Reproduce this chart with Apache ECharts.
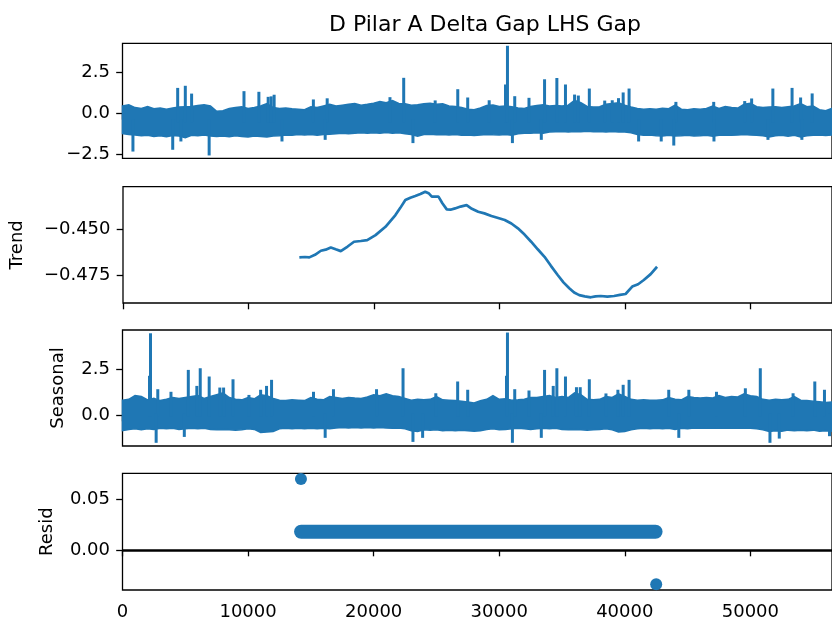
<!DOCTYPE html>
<html>
<head>
<meta charset="utf-8">
<script src="https://cdn.jsdelivr.net/npm/echarts@6/dist/echarts.min.js"></script>
<style>html,body{margin:0;padding:0;background:#fff}#chart{width:832px;height:623px}</style>
</head>
<body>
<div id="chart"></div>
<script>
// ---------------- data ----------------
const titleText = 'D Pilar A Delta Gap LHS Gap';
const panelNames = ['', 'Trend', 'Seasonal', 'Resid'];

const xTicks = [0, 10000, 20000, 30000, 40000, 50000];
const obsTicks = [-2.5, 0, 2.5];
const trendTicks = [-0.475, -0.450];
const seasTicks = [0, 2.5];
const residTicks = [0, 0.05];

// Observed: dense band envelope [x, low, high]
const obsBand = [
 [0,-1.25,0.45],[500,-1.30,0.52],[1000,-1.33,0.35],[1500,-1.38,0.30],[2000,-1.35,0.42],[2500,-1.42,0.28],
 [3000,-1.38,0.33],[3500,-1.44,0.25],[4000,-1.36,0.32],[4500,-1.40,0.38],[5000,-1.50,0.40],[5500,-1.35,0.42],
 [6000,-1.38,0.48],[6500,-1.33,0.52],[7000,-1.40,0.45],[7500,-1.42,0.12],[8000,-1.40,0.15],[8500,-1.44,0.30],
 [9000,-1.38,0.35],[9500,-1.42,0.40],[10000,-1.45,0.30],[10500,-1.40,0.35],[11000,-1.43,0.45],[11500,-1.45,0.60],
 [12000,-1.40,0.35],[12500,-1.38,0.30],[13000,-1.33,0.32],[13500,-1.35,0.28],[14000,-1.30,0.25],[14500,-1.33,0.22],
 [15000,-1.30,0.40],[15500,-1.35,0.35],[16000,-1.30,0.45],[16500,-1.28,0.55],[17000,-1.25,0.45],[17500,-1.22,0.50],
 [18000,-1.25,0.55],[18500,-1.22,0.60],[19000,-1.20,0.50],[19500,-1.23,0.55],[20000,-1.20,0.62],[20500,-1.22,0.72],
 [21000,-1.18,0.65],[21500,-1.22,0.78],[22000,-1.20,0.60],[22500,-1.25,0.58],[23000,-1.30,0.50],[23500,-1.40,0.52],
 [24000,-1.30,0.58],[24500,-1.28,0.62],[25000,-1.32,0.55],[25500,-1.30,0.58],[26000,-1.33,0.45],[26500,-1.30,0.42],
 [27000,-1.35,0.35],[27500,-1.33,0.25],[28000,-1.36,0.22],[28500,-1.33,0.32],[29000,-1.30,0.48],[29500,-1.32,0.50],
 [30000,-1.33,0.42],[30500,-1.30,0.45],[31000,-1.35,0.40],[31500,-1.25,0.32],[32000,-1.22,0.30],[32500,-1.22,0.42],
 [33000,-1.20,0.48],[33500,-1.22,0.52],[34000,-1.15,0.45],[34500,-1.13,0.48],[35000,-1.12,0.45],[35500,-1.15,0.50],
 [36000,-1.12,0.80],[36500,-1.13,0.65],[37000,-1.10,0.42],[37500,-1.13,0.38],[38000,-1.12,0.40],[38500,-1.15,0.55],
 [39000,-1.12,0.60],[39500,-1.15,0.65],[40000,-1.15,0.50],[40500,-1.20,0.38],[41000,-1.30,0.30],[41500,-1.35,0.25],
 [42000,-1.33,0.28],[42500,-1.38,0.25],[43000,-1.40,0.30],[43500,-1.35,0.28],[44000,-1.40,0.50],[44500,-1.38,0.25],
 [45000,-1.35,0.22],[45500,-1.40,0.28],[46000,-1.38,0.25],[46500,-1.35,0.30],[47000,-1.40,0.45],[47500,-1.35,0.30],
 [48000,-1.33,0.42],[48500,-1.35,0.35],[49000,-1.33,0.32],[49500,-1.30,0.55],[50000,-1.33,0.62],[50500,-1.35,0.40],
 [51000,-1.38,0.35],[51500,-1.45,0.38],[52000,-1.38,0.40],[52500,-1.35,0.35],[53000,-1.40,0.40],[53500,-1.35,0.45],
 [54000,-1.45,0.60],[54500,-1.38,0.40],[55000,-1.35,0.45],[55500,-1.33,0.22],[56000,-1.36,0.15],[56500,-1.33,0.30]
];
const obsLevel = -0.45;
// Observed isolated spikes [x, tip]
const obsSpikes = [
 [4394,1.47],[5002,1.60],[5503,1.12],[9674,1.27],[10860,1.23],[11600,0.92],[11840,0.95],[12075,1.05],
 [15200,0.76],[16300,0.83],[21300,0.90],[22393,2.09],[24900,0.70],[26698,1.39],[27490,0.88],[29200,0.71],
 [30500,1.68],[30656,4.06],[31235,0.96],[32370,0.86],[33610,2.00],[34590,2.08],[35275,1.68],[36000,1.06],
 [36300,1.00],[37175,1.43],[38400,0.69],[39000,0.71],[39500,0.84],[39870,1.19],[40340,1.43],[44070,0.61],
 [47080,0.61],[49550,0.66],[50100,0.82],[51790,1.43],[53320,1.47],[54000,0.88],[54920,1.13],
 [831,-2.26],[3999,-2.15],[4650,-1.64],[6900,-2.50],[12700,-1.64],[16140,-1.54],[23130,-1.74],[31050,-1.74],
 [33350,-1.54],[41100,-1.64],[42900,-1.64],[43900,-1.89],[47100,-1.64],[51400,-1.54],[54100,-1.54]
];

// Trend [x, value]
const trendData = [
 [14054,-0.4654],[14500,-0.4652],[14846,-0.4654],[15300,-0.4640],[15770,-0.4618],[16150,-0.4612],[16560,-0.4600],
 [16950,-0.4610],[17355,-0.4620],[17900,-0.4595],[18410,-0.4569],[18950,-0.4565],[19460,-0.4560],[20125,-0.4533],
 [20917,-0.4488],[21710,-0.4424],[22100,-0.4385],[22500,-0.4342],[22900,-0.4330],[23290,-0.4321],[23700,-0.4310],
 [24085,-0.4297],[24350,-0.4305],[24610,-0.4324],[25140,-0.4324],[25450,-0.4360],[25800,-0.4393],[26100,-0.4395],
 [26460,-0.4388],[26900,-0.4378],[27380,-0.4370],[27800,-0.4390],[28305,-0.4406],[28800,-0.4415],[29360,-0.4429],
 [29900,-0.4440],[30420,-0.4451],[30950,-0.4470],[31470,-0.4496],[32000,-0.4530],[32525,-0.4569],[33050,-0.4610],
 [33590,-0.4651],[34100,-0.4700],[34640,-0.4750],[35100,-0.4790],[35565,-0.4822],[35950,-0.4845],[36360,-0.4859],
 [36800,-0.4866],[37280,-0.4871],[37650,-0.4866],[38070,-0.4864],[38600,-0.4867],[39130,-0.4864],[39600,-0.4858],
 [40050,-0.4853],[40580,-0.4813],[41050,-0.4800],[41505,-0.4777],[42050,-0.4745],[42560,-0.4705]
];

// Seasonal: dense band envelope [x, low, high]
const seasBand = [
 [0,-0.85,0.80],[500,-0.78,0.85],[1000,-0.75,1.05],[1500,-0.80,1.00],[2000,-0.75,0.82],[2500,-0.78,0.90],
 [3000,-0.72,0.78],[3500,-0.75,0.85],[4000,-0.72,0.95],[4500,-0.78,0.90],[5000,-0.75,0.95],[5500,-0.72,1.00],
 [6000,-0.75,1.05],[6500,-0.72,0.90],[7000,-0.78,1.00],[7500,-0.80,1.10],[8000,-0.78,1.20],[8500,-0.80,0.95],
 [9000,-0.82,0.85],[9500,-0.80,0.82],[10000,-0.75,0.95],[10500,-0.78,0.88],[11000,-0.95,1.10],[11500,-0.92,1.05],
 [12000,-0.90,0.90],[12500,-0.75,0.80],[13000,-0.72,0.78],[13500,-0.75,0.82],[14000,-0.72,0.80],[14500,-0.75,0.78],
 [15000,-0.72,0.95],[15500,-0.75,0.85],[16000,-0.72,0.82],[16500,-0.75,1.00],[17000,-0.70,0.95],[17500,-0.68,0.90],
 [18000,-0.70,0.95],[18500,-0.68,0.92],[19000,-0.70,0.90],[19500,-0.68,0.98],[20000,-0.70,1.10],[20500,-0.68,1.05],
 [21000,-0.70,1.15],[21500,-0.72,1.05],[22000,-0.70,1.00],[22500,-0.75,0.90],[23000,-0.85,0.80],[23500,-0.90,0.85],
 [24000,-0.80,0.82],[24500,-0.82,0.85],[25000,-0.80,1.00],[25500,-0.85,0.82],[26000,-0.82,0.80],[26500,-0.85,0.78],
 [27000,-0.82,0.75],[27500,-0.85,0.70],[28000,-0.88,0.65],[28500,-0.85,0.78],[29000,-0.78,0.85],[29500,-0.75,1.05],
 [30000,-0.80,0.85],[30500,-0.78,0.88],[31000,-0.75,0.80],[31500,-0.72,0.82],[32000,-0.75,0.85],[32500,-0.78,0.95],
 [33000,-0.75,0.95],[33500,-0.72,1.00],[34000,-0.75,1.05],[34500,-0.72,0.95],[35000,-0.78,1.00],[35500,-0.80,0.95],
 [36000,-0.78,1.20],[36500,-0.80,1.10],[37000,-0.82,0.85],[37500,-0.80,0.82],[38000,-0.78,0.85],[38500,-0.75,1.00],
 [39000,-0.80,0.95],[39500,-0.92,1.15],[40000,-0.90,1.00],[40500,-0.80,0.85],[41000,-0.75,0.80],[41500,-0.72,0.82],
 [42000,-0.75,0.80],[42500,-0.72,0.80],[43000,-0.75,0.82],[43500,-0.72,0.95],[44000,-0.78,0.85],[44500,-0.72,0.82],
 [45000,-0.75,1.00],[45500,-0.70,0.95],[46000,-0.72,0.92],[46500,-0.70,0.95],[47000,-0.72,0.92],[47500,-0.70,1.05],
 [48000,-0.72,0.95],[48500,-0.70,1.00],[49000,-0.72,0.98],[49500,-0.70,1.15],[50000,-0.72,1.05],[50500,-0.75,1.00],
 [51000,-0.80,0.85],[51500,-0.90,0.80],[52000,-0.85,0.85],[52500,-0.88,0.82],[53000,-0.82,0.85],[53500,-0.85,1.00],
 [54000,-0.82,0.80],[54500,-0.85,0.78],[55000,-0.82,0.75],[55500,-0.88,0.72],[56000,-0.85,0.68],[56500,-0.88,0.70]
];
const seasLevel = 0.0;
const seasSpikes = [
 [2150,2.05],[2230,4.36],[2810,1.32],[3860,1.18],[5240,2.37],[5920,1.50],[6190,2.46],[6903,2.01],[7750,1.41],
 [8050,1.41],[8800,1.86],[10070,1.01],[11000,1.29],[11470,1.50],[11870,1.83],[15210,1.18],[16800,1.32],
 [20230,1.32],[22340,2.46],[24950,1.10],[26690,1.74],[27490,1.29],
 [30580,2.05],[30656,4.40],[31235,1.32],[32370,1.25],[33610,2.37],[34300,1.50],[34590,2.46],[35275,2.01],
 [36150,1.43],[36450,1.43],[37175,1.86],[38500,1.09],[39450,1.29],[39870,1.56],[40340,1.83],[43500,1.29],
 [45100,1.29],[47300,1.18],[49600,1.37],[50790,2.46],[53400,1.10],[55130,1.74],[55900,1.29],
 [2680,-1.43],[4922,-1.11],[16140,-1.16],[23130,-1.38],[23900,-1.16],[31050,-1.43],[33350,-1.16],
 [44300,-1.16],[51560,-1.43],[52300,-1.20],[56300,-1.07]
];

// Resid
const residRun = [[14220,0.0180],[42450,0.0180]];     // dense run of markers at ~0.018
const residOutliers = [[14210,0.0700],[42500,-0.0338]];

// ---------------- chart ----------------
const C0 = '#1f77b4';
const FONT = 'DejaVu Sans';
const chart = echarts.init(document.getElementById('chart'), null, {renderer:'canvas'});

const grids = [
  {top:43.3, height:115},
  {top:186.7, height:116.3},
  {top:330, height:116},
  {top:473.3, height:116.7}
];
const yRanges = [[-2.767,4.305],[-0.4902,-0.4270],[-1.685,4.62],[-0.0394,0.0756]];
const yTicks = [obsTicks, trendTicks, seasTicks, residTicks];
const yDec = [1,3,1,2];
const nameGaps = [0, 97, 55, 66];

const minus = s => s.replace('-', '\u2212');

function bandItem(band) {
  return (params, api) => {
    const pts = [];
    band.forEach(b => pts.push(api.coord([b[0], b[2]])));
    for (let k = band.length - 1; k >= 0; k--) pts.push(api.coord([band[k][0], band[k][1]]));
    return {type:'polygon', shape:{points:pts}, style:{fill:C0, stroke:C0, lineWidth:1.6, lineJoin:'miter'}};
  };
}
function spikeItem(level) {
  return (params, api) => {
    const a = api.coord([api.value(0), level]);
    const b = api.coord([api.value(0), api.value(1)]);
    return {type:'line', shape:{x1:a[0], y1:a[1], x2:b[0], y2:b[1]},
      style:{stroke:C0, lineWidth:3, lineCap:'square'}};
  };
}

const option = {
  animation:false,
  backgroundColor:'#fff',
  title:{text:titleText, left:480, top:9, textAlign:'center',
    textStyle:{fontFamily:FONT, fontSize:22, fontWeight:'normal', color:'#000'}},
  grid: grids.map(g => ({left:122.5, width:714.7, top:g.top, height:g.height,
    show:true, borderColor:'#000', borderWidth:1.3, backgroundColor:'transparent'})),
  xAxis: grids.map((g,i) => ({
    type:'value', gridIndex:i, min:0, max:56500,
    axisLine:{show:false},
    splitLine:{show:false},
    axisTick:{show:true, customValues:xTicks, length:6.3, lineStyle:{color:'#000', width:1.3}},
    axisLabel:{show:i===3, customValues:xTicks, margin:13, fontFamily:FONT, fontSize:18, color:'#000',
      formatter: v => String(v)}
  })),
  yAxis: grids.map((g,i) => ({
    type:'value', gridIndex:i, min:yRanges[i][0], max:yRanges[i][1],
    name:panelNames[i], nameLocation:'middle', nameGap:nameGaps[i], nameRotate:90,
    nameTextStyle:{fontFamily:FONT, fontSize:18, color:'#000'},
    axisLine:{show:false},
    splitLine:{show:false},
    axisTick:{show:true, customValues:yTicks[i], length:6.3, lineStyle:{color:'#000', width:1.3}},
    axisLabel:{show:true, customValues:yTicks[i], margin:12.5, fontFamily:FONT, fontSize:18, color:'#000',
      formatter: v => minus(Number(v).toFixed(yDec[i]))}
  })),
  series:[
    {type:'custom', xAxisIndex:0, yAxisIndex:0, data:[[0,0]], silent:true, renderItem:bandItem(obsBand)},
    {type:'custom', xAxisIndex:0, yAxisIndex:0, data:obsSpikes, silent:true, renderItem:spikeItem(obsLevel)},
    {type:'line', xAxisIndex:1, yAxisIndex:1, data:trendData, showSymbol:false, silent:true,
     lineStyle:{color:C0, width:2.7}},
    {type:'custom', xAxisIndex:2, yAxisIndex:2, data:[[0,0]], silent:true, renderItem:bandItem(seasBand)},
    {type:'custom', xAxisIndex:2, yAxisIndex:2, data:seasSpikes, silent:true, renderItem:spikeItem(seasLevel)},
    {type:'line', xAxisIndex:3, yAxisIndex:3, data:[], silent:true,
     markLine:{silent:true, symbol:'none', label:{show:false}, animation:false,
       lineStyle:{color:'#000', width:2.5, type:'solid'}, data:[{yAxis:0}]}},
    {type:'line', xAxisIndex:3, yAxisIndex:3, data:residRun, showSymbol:false, silent:true,
     lineStyle:{color:C0, width:14, cap:'round'}},
    {type:'scatter', xAxisIndex:3, yAxisIndex:3, data:residOutliers, symbolSize:12, silent:true,
     itemStyle:{color:C0, opacity:1}}
  ]
};
chart.setOption(option);
</script>
</body>
</html>
